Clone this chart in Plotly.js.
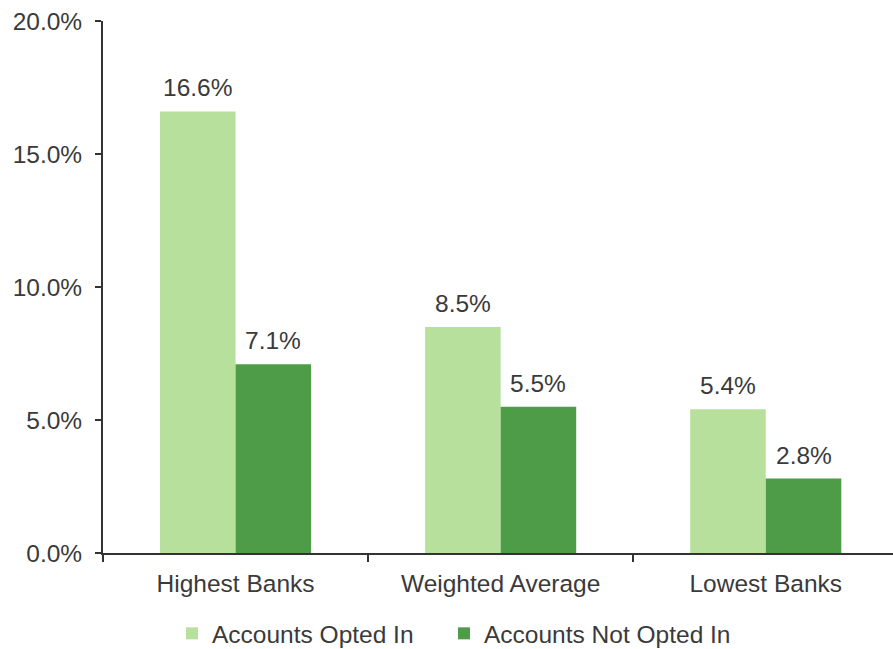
<!DOCTYPE html>
<html>
<head>
<meta charset="utf-8">
<script src="https://cdn.plot.ly/plotly-3.0.1.min.js"></script>
<style>
  html, body { margin: 0; padding: 0; background: #ffffff; }
  #chart { width: 893px; height: 649px; }
</style>
</head>
<body>
<div id="chart"></div>
<script>
// Share of accounts by bank group
const categories = ['Highest Banks', 'Weighted Average', 'Lowest Banks'];
const optedIn = [16.6, 8.5, 5.4];
const notOptedIn = [7.1, 5.5, 2.8];
const seriesNames = ['Accounts Opted In', 'Accounts Not Opted In'];
const yTickVals = [0, 5, 10, 15, 20];
const yTickText = ['0.0%', '5.0%', '10.0%', '15.0%', '20.0%'];

const FONT = 'Liberation Sans, Arial, sans-serif';
const FONT_SIZE = 24.5;
const TEXT_COLOR = '#3a3a3a';
const LIGHT = '#b7e09c';
const DARK = '#4e9c48';
const BARGAP = 0.43;

const traces = [
  { type: 'bar', name: seriesNames[0], x: categories, y: optedIn,
    marker: { color: LIGHT }, hoverinfo: 'skip', legend: 'legend' },
  { type: 'bar', name: seriesNames[1], x: categories, y: notOptedIn,
    marker: { color: DARK }, hoverinfo: 'skip', legend: 'legend2' }
];

// value labels placed over each bar of the group
const half = (1 - BARGAP) / 4;
const annotations = [];
[optedIn, notOptedIn].forEach((vals, s) => {
  vals.forEach((v, i) => {
    annotations.push({
      x: i + (s === 0 ? -half : half), y: v, xref: 'x', yref: 'y',
      text: v.toFixed(1) + '%', showarrow: false,
      yanchor: 'bottom', yshift: 8,
      font: { family: FONT, size: FONT_SIZE, color: TEXT_COLOR }
    });
  });
});

const legendBase = {
  orientation: 'h', xref: 'container', yref: 'container',
  xanchor: 'left', y: 0.024, yanchor: 'middle',
  font: { family: FONT, size: FONT_SIZE, color: TEXT_COLOR },
  itemwidth: 30, tracegroupgap: 0, bgcolor: 'rgba(0,0,0,0)'
};

const layout = {
  width: 893, height: 649,
  margin: { l: 103, r: 0, t: 21, b: 96, pad: 0, autoexpand: false },
  paper_bgcolor: '#ffffff', plot_bgcolor: '#ffffff',
  barmode: 'group', bargap: BARGAP, bargroupgap: 0,
  font: { family: FONT, size: FONT_SIZE, color: TEXT_COLOR },
  showlegend: true,
  legend: Object.assign({}, legendBase, { x: 0.1926 }),
  legend2: Object.assign({}, legendBase, { x: 0.4972 }),
  xaxis: {
    type: 'category', range: [-0.5, 2.48],
    showline: true, linecolor: '#333333', linewidth: 2,
    ticks: 'outside', tickson: 'boundaries', ticklen: 7, tickwidth: 2, tickcolor: '#333333',
    showgrid: false, zeroline: false,
    tickfont: { family: FONT, size: FONT_SIZE, color: TEXT_COLOR },
    ticklabelstandoff: 8
  },
  yaxis: {
    range: [0, 20], tickvals: yTickVals, ticktext: yTickText,
    showline: true, linecolor: '#333333', linewidth: 2,
    ticks: 'outside', ticklen: 6, tickwidth: 2, tickcolor: '#333333',
    showgrid: false, zeroline: false,
    tickfont: { family: FONT, size: FONT_SIZE, color: TEXT_COLOR },
    ticklabelstandoff: 8
  },
  annotations: annotations
};

Plotly.newPlot('chart', traces, layout, { displayModeBar: false, staticPlot: true });
</script>
</body>
</html>
